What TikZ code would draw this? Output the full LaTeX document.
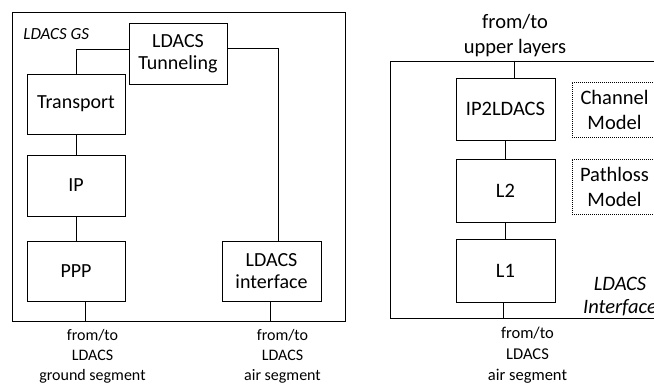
\documentclass[tikz,border=0pt]{standalone}
\usepackage{fontspec}
\setmainfont{Carlito}
\begin{document}
\begin{tikzpicture}[x=1pt,y=-1pt,
  line width=0.8pt,
  block/.style={draw, rectangle, inner sep=0pt, align=center,
    font=\fontsize{20}{22}\selectfont},
  rblock/.style={block, font=\fontsize{20.5}{23}\selectfont},
  model/.style={draw, rectangle, inner sep=0pt, align=center,
    line width=0.6pt, dash pattern=on 1pt off 1pt,
    minimum width=85pt, font=\fontsize{20.5}{25}\selectfont},
  frame/.style={draw, rectangle, inner sep=0pt},
  caption/.style={align=center, inner sep=0pt, font=\fontsize{16}{20}\selectfont},
  wire/.style={draw}]
\useasboundingbox (0,0) rectangle (654,385);
\begin{scope}
\clip (0,0) rectangle (654,385);

% ground station stack
\node[frame, minimum width=333pt, minimum height=309pt] (gs) at (178.5,166.5) {};
\node[anchor=west, inner sep=0pt, font=\fontsize{17}{19}\selectfont\itshape] (gslabel) at (23,34.5) {LDACS GS};

\node[block, minimum width=98pt, minimum height=61pt] (tun) at (178,53.5) {LDACS\\Tunneling};
\node[block, minimum width=98pt, minimum height=60pt] (trans) at (76,104) {Transport};
\node[block, minimum width=98pt, minimum height=61pt] (ip) at (76,185.5) {IP};
\node[block, minimum width=98pt, minimum height=60pt] (ppp) at (76,271) {PPP};
\node[block, minimum width=99pt, minimum height=60pt] (ifc) at (271.5,271) {LDACS\\interface};

\draw[wire] ([yshift=4.5pt]tun.west) -| (trans.north);
\draw[wire] ([yshift=5pt]tun.east) -| ([xshift=6.5pt]ifc.north);
\draw[wire] (trans.south) -- (ip.north);
\draw[wire] (ip.south) -- (ppp.north);
\draw[wire] ([xshift=9pt]ppp.south) -- ([xshift=9pt]ppp.south |- gs.south);
\draw[wire] ([xshift=-1.5pt]ifc.south) -- ([xshift=-1.5pt]ifc.south |- gs.south);

\node[caption] (gndseg) at (92.5,356) {from/to\\LDACS\\ground segment};
\node[caption] (airseg) at (282.5,356) {from/to\\LDACS\\air segment};

% airborne interface stack
\node[frame, minimum width=289.3pt, minimum height=257.7pt] (ai) at (535.35,189.85) {};
\node[align=center, inner sep=0pt, font=\fontsize{20.5}{25}\selectfont] (upper) at (515,35.5) {from/to\\upper layers};

\node[rblock, minimum width=99pt, minimum height=62pt] (ip2) at (505.5,109) {IP2LDACS};
\node[rblock, minimum width=99pt, minimum height=63pt] (l2) at (505.5,190.5) {L2};
\node[rblock, minimum width=99pt, minimum height=63pt] (l1) at (505.5,270.5) {L1};

\draw[wire] ([xshift=8.5pt]ip2.north |- ai.north) -- ([xshift=8.5pt]ip2.north);
\draw[wire] (ip2.south) -- (l2.north);
\draw[wire] (l2.south) -- (l1.north);
\draw[wire] ([xshift=-2.5pt]l1.south) -- ([xshift=-2.5pt]l1.south |- ai.south);

\node[model, minimum height=55pt] (chan) at (614.5,109.5) {Channel\\Model};
\node[model, minimum height=55pt] (path) at (614.5,186.5) {Pathloss\\Model};

\node[align=center, inner sep=0pt, font=\fontsize{20.5}{23}\selectfont\itshape] (ailabel) at (620,296.5) {LDACS\\Interface};

\node[caption, font=\fontsize{16.5}{21}\selectfont] (airseg2) at (527.5,355) {from/to\\LDACS\\air segment};
\end{scope}
\end{tikzpicture}
\end{document}
